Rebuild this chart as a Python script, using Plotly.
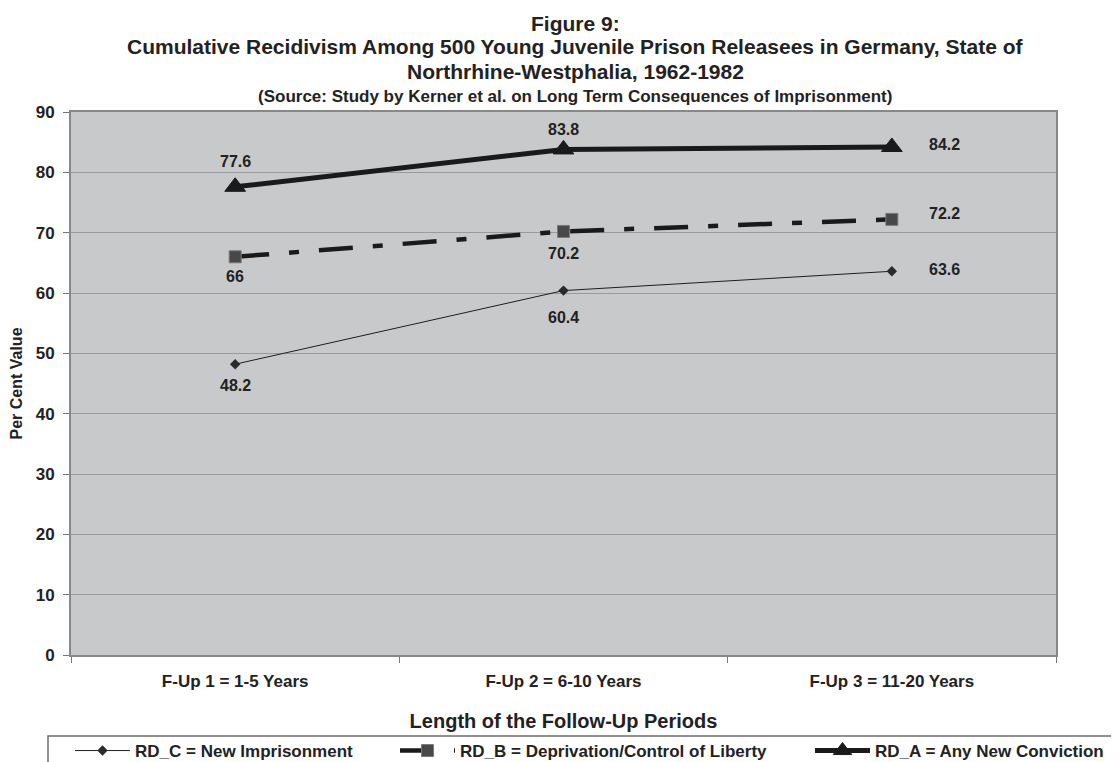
import plotly.graph_objects as go

categories = ["F-Up 1 = 1-5 Years", "F-Up 2 = 6-10 Years", "F-Up 3 = 11-20 Years"]
rd_c = [48.2, 60.4, 63.6]
rd_b = [66, 70.2, 72.2]
rd_a = [77.6, 83.8, 84.2]
names = ["RD_C = New Imprisonment", "RD_B = Deprivation/Control of Liberty", "RD_A = Any New Conviction"]
y_ticks = [0, 10, 20, 30, 40, 50, 60, 70, 80, 90]

FONT = "Liberation Sans, Arial, sans-serif"
TXT = "#222222"
BOLD = "bold"

# page has an 8px body margin; figure is sized to fill the rest of the window
W, H = 1111, 754
OFF = 8
PL, PR, PT, PB = 71, 1056, 112, 655  # plot area in page pixels
PW, PH = PR - PL, PB - PT


def px_x(xp):
    return (xp - PL) / PW


def px_y(yp):
    return (PB - yp) / PH


fig = go.Figure()
fig.add_trace(go.Scatter(
    x=categories, y=rd_c, name=names[0], mode="lines+markers", legend="legend",
    line=dict(color="#1e1e1e", width=1),
    marker=dict(symbol="diamond", size=8, color="#2a2a2a"),
))
fig.add_trace(go.Scatter(
    x=categories, y=rd_b, name=names[1], mode="lines+markers", legend="legend2",
    line=dict(color="#1a1a1a", width=4.5, dash="34px,20px,10px,20px"),
    marker=dict(symbol="square", size=12, color="#484848", line=dict(color="#7a7a7a", width=1)),
))
fig.add_trace(go.Scatter(
    x=categories, y=rd_a, name=names[2], mode="lines+markers", legend="legend3",
    line=dict(color="#1a1a1a", width=5),
    marker=dict(symbol="triangle-up", size=18, color="#1a1a1a", line=dict(color="#1a1a1a", width=1)),
))

# data labels: offsets (px) per series for each point
label_offsets = {
    0: [(0, -21), (0, -27), (53, 2)],
    1: [(0, -20), (0, -22), (53, 6)],
    2: [(0, 25), (0, 20), (53, 2)],
}
for si, vals in enumerate([rd_c, rd_b, rd_a]):
    for pi, (cat, v) in enumerate(zip(categories, vals)):
        dx, dy = label_offsets[si][pi]
        fig.add_annotation(
            x=cat, y=v, text=f"{v:g}", showarrow=False,
            xshift=dx, yshift=dy, font=dict(family=FONT, size=16, color=TXT, weight=BOLD),
        )

title_lines = [
    ("Figure 9:", 21, 23),
    ("Cumulative Recidivism Among 500 Young Juvenile Prison Releasees in Germany, State of", 21, 47),
    ("Northrhine-Westphalia, 1962-1982", 21, 71),
    ("(Source: Study by Kerner et al. on Long Term Consequences of Imprisonment)", 17, 97),
]
for text, size, ypx in title_lines:
    fig.add_annotation(
        xref="paper", yref="paper", x=px_x(575), y=px_y(ypx),
        text=text, showarrow=False, xanchor="center", yanchor="middle",
        font=dict(family=FONT, size=size, color=TXT, weight=BOLD),
    )

# legend frame
fig.add_shape(
    type="rect", xref="paper", yref="paper",
    x0=px_x(48), x1=px_x(1135), y0=px_y(736), y1=px_y(775),
    line=dict(color="#6e6e6e", width=1.5), fillcolor="rgba(0,0,0,0)", layer="above",
)

leg_common = dict(
    orientation="h", xref="container", yref="container", xanchor="left", yanchor="middle",
    y=1 - (751 - OFF) / H, bgcolor="rgba(0,0,0,0)", borderwidth=0,
    font=dict(family=FONT, size=17, color=TXT, weight=BOLD), itemwidth=55,
)

fig.update_layout(
    width=W, height=H,
    margin=dict(l=PL - OFF, r=W + OFF - PR, t=PT - OFF, b=H + OFF - PB, autoexpand=False),
    paper_bgcolor="white", plot_bgcolor="#c8c9cb",
    font=dict(family=FONT, color=TXT),
    showlegend=True,
    legend=dict(leg_common, x=(70 - OFF) / W),
    legend2=dict(leg_common, x=(395 - OFF) / W),
    legend3=dict(leg_common, x=(810 - OFF) / W),
    xaxis=dict(
        type="category", range=[-0.5, 2.5], tickson="boundaries",
        ticks="outside", ticklen=6, tickcolor="#777777",
        showline=True, linecolor="#888888", linewidth=2, mirror=True,
        showgrid=False, ticklabelstandoff=10,
        tickfont=dict(family=FONT, size=17, color=TXT, weight=BOLD),
        title=dict(text="Length of the Follow-Up Periods", standoff=24,
                   font=dict(family=FONT, size=20, color=TXT, weight=BOLD)),
    ),
    yaxis=dict(
        range=[0, 90], tickvals=y_ticks, ticks="outside", ticklen=6, tickcolor="#777777",
        showline=True, linecolor="#888888", linewidth=2, mirror=True,
        showgrid=True, gridcolor="#9a9a9a", gridwidth=1.2, zeroline=False,
        ticklabelstandoff=5,
        tickfont=dict(family=FONT, size=17, color=TXT, weight=BOLD),
        title=dict(text="Per Cent Value", standoff=10,
                   font=dict(family=FONT, size=16, color=TXT, weight=BOLD)),
    ),
)

fig.write_html("out.html")
